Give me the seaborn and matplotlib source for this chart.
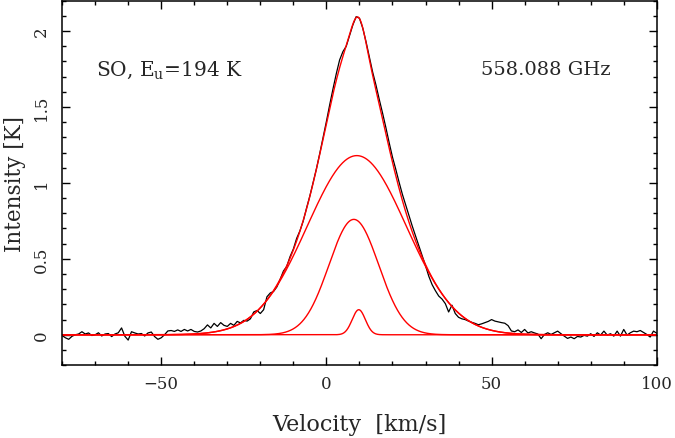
import matplotlib
matplotlib.use("Agg")
import matplotlib.pyplot as plt
import numpy as np
import pandas as pd
import seaborn as sns

velocity = list(range(-80, 101))
intensity = [
    -0.005, -0.02, -0.03, -0.01, 0.0, 0.005, 0.02, 0.005, 0.012, -0.005,      # -80..-71
    0.0, 0.013, -0.008, 0.005, 0.008, -0.012, 0.005, 0.013, 0.045, -0.01,     # -70..-61
    -0.035, 0.02, 0.012, 0.005, 0.008, -0.008, 0.012, 0.018, -0.012, -0.03,   # -60..-51
    -0.02, 0.0, 0.025, 0.028, 0.022, 0.032, 0.022, 0.035, 0.025, 0.035,       # -50..-41
    0.022, 0.018, 0.025, 0.04, 0.065, 0.045, 0.075, 0.055, 0.08, 0.062,       # -40..-31
    0.055, 0.075, 0.062, 0.088, 0.078, 0.095, 0.09, 0.105, 0.15, 0.16,        # -30..-21
    0.14, 0.165, 0.25, 0.275, 0.285, 0.315, 0.365, 0.42, 0.45, 0.515,         # -20..-11
    0.565, 0.635, 0.685, 0.75, 0.835, 0.915, 1.005, 1.095, 1.195, 1.30,       # -10..-1
    1.405, 1.515, 1.62, 1.72, 1.81, 1.865, 1.90, 1.97, 2.04, 2.095,           # 0..9
    2.085, 2.02, 1.93, 1.83, 1.73, 1.645, 1.55, 1.46, 1.365, 1.265,           # 10..19
    1.17, 1.09, 1.005, 0.925, 0.855, 0.785, 0.715, 0.65, 0.585, 0.52,         # 20..29
    0.455, 0.385, 0.33, 0.29, 0.255, 0.235, 0.205, 0.15, 0.195, 0.14,         # 30..39
    0.115, 0.105, 0.10, 0.09, 0.082, 0.075, 0.066, 0.072, 0.08, 0.088,        # 40..49
    0.10, 0.09, 0.085, 0.08, 0.076, 0.06, 0.025, 0.02, 0.032, 0.015,          # 50..59
    0.035, 0.012, 0.02, 0.012, 0.005, -0.026, 0.002, 0.013, 0.002, 0.013,     # 60..69
    0.024, 0.007, -0.009, -0.024, -0.015, -0.026, -0.011, -0.015, -0.004, -0.009,  # 70..79
    0.007, -0.011, 0.013, -0.002, 0.024, -0.002, 0.007, -0.009, 0.024, -0.009,     # 80..89
    0.035, -0.002, 0.013, 0.024, 0.02, 0.028, 0.015, 0.002, -0.015, 0.024,    # 90..99
    0.01,                                                                     # 100
]

# gaussian fit components (amplitude K, centre km/s, FWHM km/s)
fit_amp = [1.18, 0.76, 0.165]
fit_center = [9.2, 8.3, 9.8]
fit_fwhm = [35.3, 17.7, 4.7]

line_label = "SO, $\\mathrm{E_u}$=194 K"
freq_label = "558.088 GHz"

sns.set_style("ticks")
plt.rcParams["font.family"] = ["DejaVu Serif"]
plt.rcParams["mathtext.fontset"] = "dejavuserif"

df_obs = pd.DataFrame({"v": velocity, "T": intensity})

v_model = np.linspace(-80, 100, 1801)
comps = []
for a, c, w in zip(fit_amp, fit_center, fit_fwhm):
    s = w / (2 * np.sqrt(2 * np.log(2)))
    comps.append(a * np.exp(-(v_model - c) ** 2 / (2 * s ** 2)))
total = np.sum(comps, axis=0)

fig = plt.figure(figsize=(6.75, 4.39), dpi=100)
ax = fig.add_axes([0.092, 0.166, 0.881, 0.830])

sns.lineplot(data=df_obs, x="v", y="T", color="black", linewidth=0.9, ax=ax)
for comp in comps:
    sns.lineplot(x=v_model, y=comp, color="#ff0000", linewidth=1.0, ax=ax)
sns.lineplot(x=v_model, y=total, color="#ff0000", linewidth=1.0, ax=ax)

ax.set_xlim(-80, 100)
ax.set_ylim(-0.2, 2.2)
ax.set_xticks([-50, 0, 50, 100])
ax.set_xticks(np.arange(-80, 101, 10), minor=True)
ax.set_yticks([0, 0.5, 1, 1.5, 2])
ax.set_yticklabels(["0", "0.5", "1", "1.5", "2"])
ax.set_yticks(np.arange(-0.2, 2.21, 0.1), minor=True)

ax.tick_params(which="both", direction="in", top=True, right=True,
               labelsize=12, width=1.0, color="black")
ax.tick_params(which="major", length=6)
ax.tick_params(which="minor", length=3)
ax.tick_params(axis="y", pad=9)
ax.tick_params(axis="x", pad=7)
plt.setp(ax.get_yticklabels(), rotation=90, va="center")
for sp in ax.spines.values():
    sp.set_visible(True)
    sp.set_linewidth(1.1)
    sp.set_color("black")

ax.set_xlabel("Velocity  [km/s]", fontsize=16, labelpad=15)
ax.set_ylabel("Intensity [K]", fontsize=15.5, labelpad=5)

ax.text(-69.7, 1.75, line_label, fontsize=14.5, ha="left", va="center")
ax.text(46.7, 1.75, freq_label, fontsize=14, ha="left", va="center")

fig.savefig("out.png", dpi=100)
